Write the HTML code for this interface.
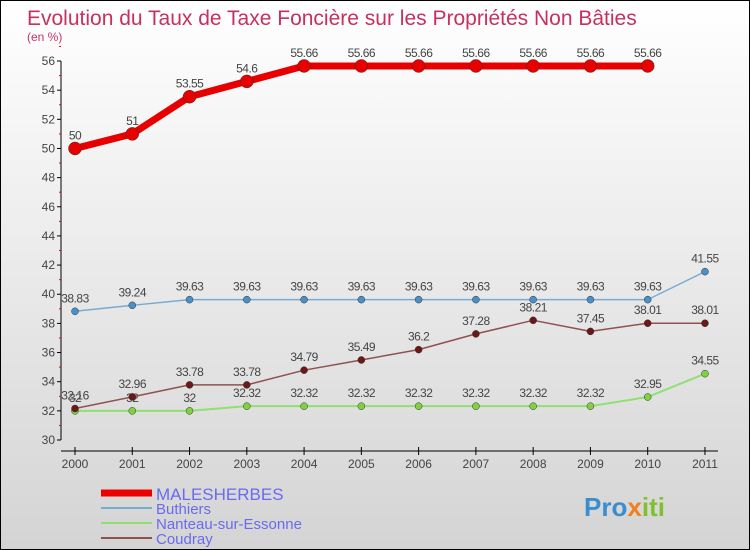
<!DOCTYPE html>
<html><head><meta charset="utf-8"><style>
html,body{margin:0;padding:0}
body{width:750px;height:550px;overflow:hidden;font-family:"Liberation Sans",sans-serif}
#wrap{position:relative;width:748px;height:548px;border:1px solid #000;background:linear-gradient(#ffffff,#d4d4d4)}
</style></head><body>
<div id="wrap">
<svg id="chart" width="748" height="548" style="position:absolute;left:0;top:0">
<text x="26" y="24" font-size="21" fill="#c8305e">Evolution du Taux de Taxe Foncière sur les Propriétés Non Bâties</text>
<text x="26" y="40" font-size="12" fill="#c8306e">(en %)</text>
<g id="axes"></g><g id="series"></g>
<g>
<line x1="100" y1="492" x2="151" y2="492" stroke="#e00" stroke-width="7"/>
<text x="155" y="499" font-size="17" fill="#6a6af0">MALESHERBES</text>
<line x1="100" y1="507" x2="151" y2="507" stroke="#7aaad0" stroke-width="2"/>
<text x="155" y="513" font-size="15" fill="#6a6af0">Buthiers</text>
<line x1="100" y1="522" x2="151" y2="522" stroke="#90e070" stroke-width="2"/>
<text x="155" y="528" font-size="15" fill="#6a6af0">Nanteau-sur-Essonne</text>
<line x1="100" y1="537" x2="151" y2="537" stroke="#905050" stroke-width="2"/>
<text x="155" y="543" font-size="15" fill="#6a6af0">Coudray</text>
</g>
<text x="583" y="515" font-size="26" font-weight="bold" fill="#3a8ed0">Pro<tspan fill="#f08020">x</tspan><tspan fill="#80c030">iti</tspan></text>
</svg>
</div>
<script>
const years=[2000,2001,2002,2003,2004,2005,2006,2007,2008,2009,2010,2011];
const yTicks=[30,32,34,36,38,40,42,44,46,48,50,52,54,56];
const malesherbes=[50,51,53.55,54.6,55.66,55.66,55.66,55.66,55.66,55.66,55.66,null];
const buthiers=[38.83,39.24,39.63,39.63,39.63,39.63,39.63,39.63,39.63,39.63,39.63,41.55];
const nanteau=[32,32,32,32.32,32.32,32.32,32.32,32.32,32.32,32.32,32.95,34.55];
const coudray=[32.16,32.96,33.78,33.78,34.79,35.49,36.2,37.28,38.21,37.45,38.01,38.01];
const NS="http://www.w3.org/2000/svg";
const X=i=>74+i*57.27;
const Y=v=>439-(v-30)*(379/26);
function el(t,a,p){const e=document.createElementNS(NS,t);for(const k in a)e.setAttribute(k,a[k]);p.appendChild(e);return e;}
const ax=document.getElementById('axes');
const yl=el('line',{x1:60,y1:Y(56),x2:60,y2:Y(30),stroke:'#000'},ax);


yTicks.forEach(t=>{
 el('line',{x1:56,x2:60,y1:Y(t),y2:Y(t),stroke:'#000'},ax);
 el('line',{x1:58,x2:60,y1:Y(t+1),y2:Y(t+1),stroke:'#e00'},ax);
 const tx=el('text',{x:54,y:Y(t)+4,'font-size':12,fill:'#444','text-anchor':'end'},ax);tx.textContent=t;
 
 
});
const xl=el('line',{x1:60,y1:450,x2:717,y2:450,stroke:'#000'},ax);


years.forEach((y,i)=>{
 el('line',{x1:X(i),x2:X(i),y1:446,y2:454,stroke:'#000'},ax);
 const tx=el('text',{x:X(i),y:467,'font-size':12,fill:'#444','text-anchor':'middle'},ax);tx.textContent=y;
 
 
});
const sg=document.getElementById('series');
function draw(data,name,color,w,r,dot,fs){
 const g=el('g',{},sg);
 
 
 const pts=[];data.forEach((v,i)=>{if(v!==null)pts.push([X(i),Y(v),v]);});
 const pl=el('polyline',{points:pts.map(p=>p[0]+','+p[1]).join(' '),fill:'none',stroke:color,'stroke-width':w,'stroke-linejoin':'round'},g);
 
 
 pts.forEach(p=>{
  const c=el('circle',{cx:p[0],cy:p[1],r:r,fill:dot,stroke:'#333','stroke-width':0.5},g);
  
  
  const t=el('text',{x:p[0],y:p[1]-9,'font-size':fs,fill:'#444','text-anchor':'middle','letter-spacing':'-0.5'},g);
  t.textContent=p[2];
  
  
 });
}
draw(nanteau,'nanteau','#90e070',2,3.5,'#80d040',12);
draw(coudray,'coudray','#905050',1.5,3.5,'#6a1818',12);
draw(buthiers,'buthiers','#7aaad0',1.5,3.5,'#4a90c8',12);
draw(malesherbes,'malesherbes','#e80000',7,6.5,'#e80000',12);
</script>
</body></html>
